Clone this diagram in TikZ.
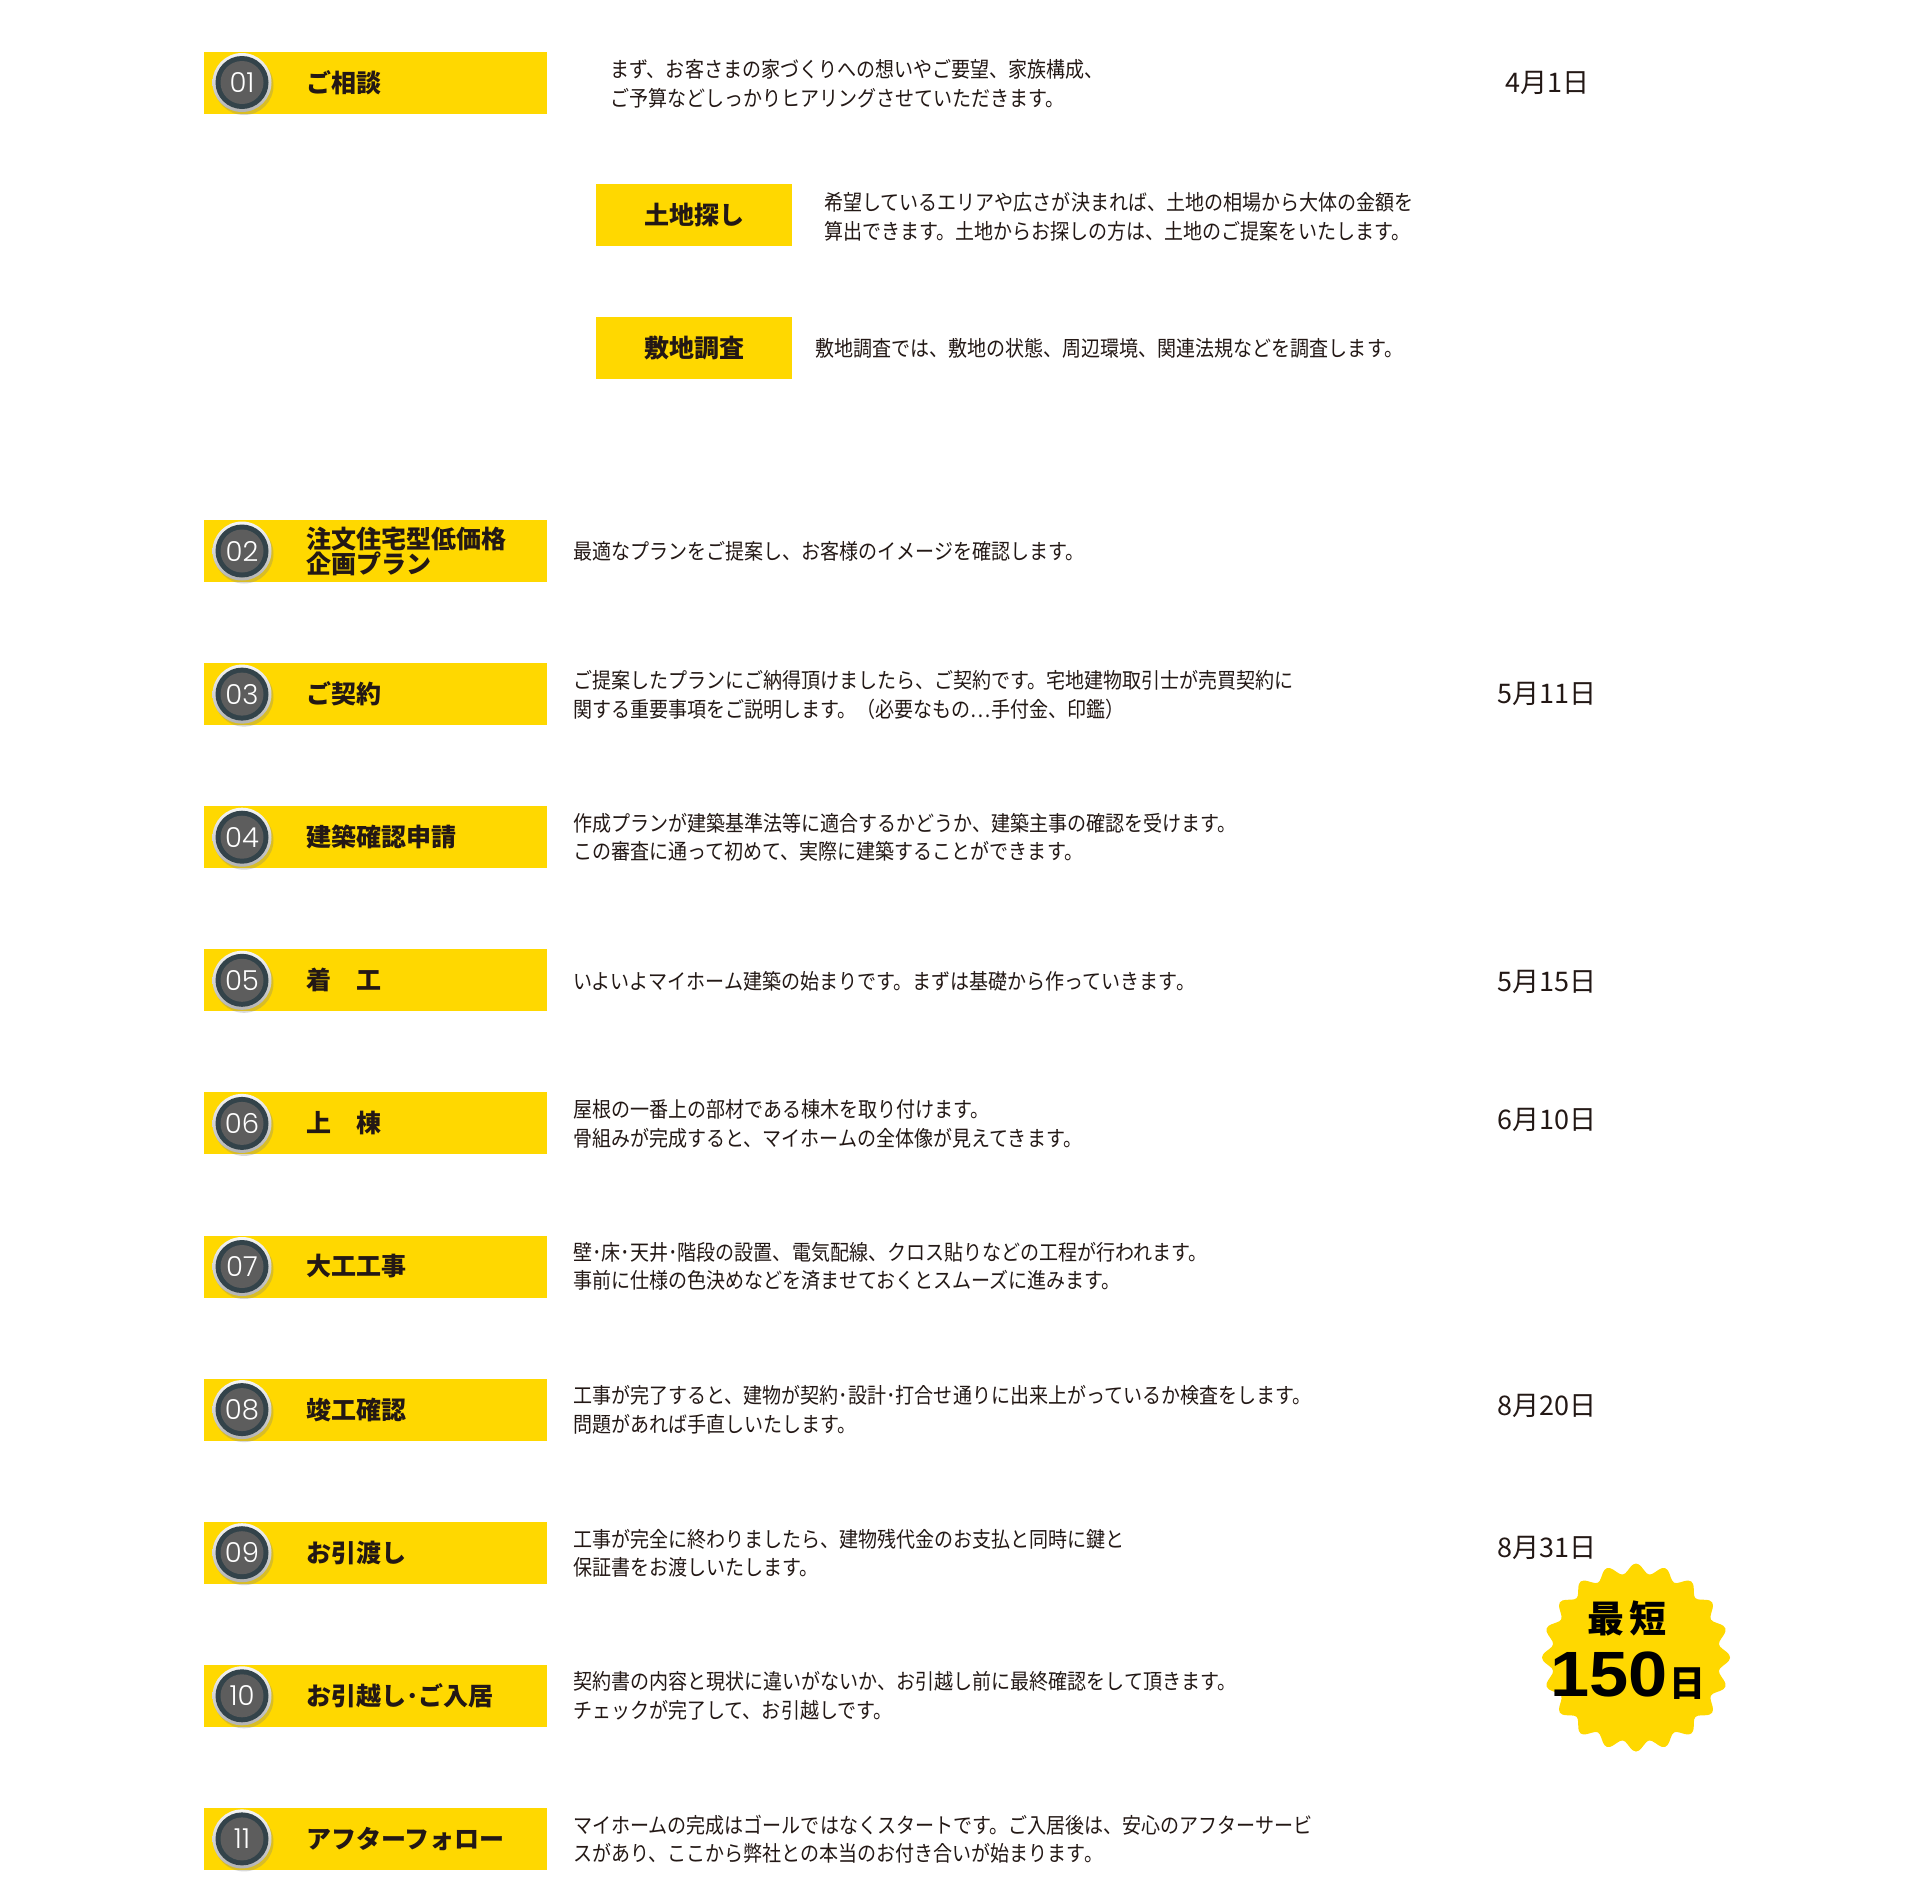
\documentclass[tikz,border=0pt]{standalone}
\usepackage{fontspec}
\newfontfamily\jp{Noto Sans CJK JP}
\newfontfamily\jpbody[FakeStretch=0.885]{Noto Sans CJK JP}
\newfontfamily\numfont{Poppins Light}
\newfontfamily\numwide[FakeStretch=1.1]{Liberation Sans}
\usetikzlibrary{positioning, shadows}
\definecolor{stepyellow}{RGB}{255,216,0}
\definecolor{badgegray}{RGB}{93,93,93}
\definecolor{badgeslate}{RGB}{51,67,74}
\definecolor{inkdark}{RGB}{35,24,21}

\begin{document}
\begin{tikzpicture}[
    x=1pt, y=-1pt,
    bar/.style={rectangle, fill=stepyellow, minimum width=343pt, minimum height=62pt, inner sep=0pt, anchor=west},
    subbar/.style={rectangle, fill=stepyellow, minimum width=196pt, minimum height=62pt, inner sep=0pt, text=inkdark, font=\jp\bfseries\fontsize{25}{26}\selectfont},
    ring/.style={circle, minimum size=59pt, inner sep=0pt, top color=gray!8, bottom color=gray!60, drop shadow={shadow xshift=2pt, shadow yshift=-3pt, opacity=0.3}},
    rim/.style={circle, minimum size=53pt, inner sep=0pt, fill=badgeslate},
    badge/.style={circle, minimum size=43pt, inner sep=0pt, fill=badgegray, text=white, font=\numfont\fontsize{27.5}{27.5}\selectfont},
    title/.style={anchor=west, align=left, inner sep=0pt, text=inkdark, font=\jp\bfseries\fontsize{25}{25}\selectfont},
    desc/.style={anchor=west, align=left, inner sep=0pt, text=inkdark, font=\jpbody\fontsize{21.5}{28.5}\selectfont},
    datelabel/.style={inner sep=0pt, text=inkdark, font=\jp\fontsize{27}{28}\selectfont},
]
    \useasboundingbox (0,0) rectangle (1920,1901);

    % Step bars with badges
    \foreach \n/\y/\t in {01/82.5/ご相談, 02/551/{注文住宅型低価格\\企画プラン}, 03/694.1/ご契約,
        04/837.2/建築確認申請, 05/980.3/着　工, 06/1123.4/上　棟, 07/1266.5/大工工事,
        08/1409.6/竣工確認, 09/1552.7/お引渡し, 10/1695.8/お引越し･ご入居, 11/1838.9/アフターフォロー} {
        \node[bar] (bar\n) at (204,\y) {};
        \node[ring] (r\n) at (242,\y) {};
        \node[rim] (m\n) at (r\n) {};
        \node[badge] (b\n) at (r\n) {\n};
        \node[title] (t\n) at (306,\y) {\t};
    }

    % Sub steps
    \node[subbar] (land) at (694,215.4) {土地探し};
    \node[subbar] (survey) at (694,348.3) {敷地調査};

    % Descriptions
    \node[desc] (d01) at (610,84) {まず、お客さまの家づくりへの想いやご要望、家族構成、\\ご予算などしっかりヒアリングさせていただきます。};
    \node[desc] (dland) at (824,217) {希望しているエリアや広さが決まれば、土地の相場から大体の金額を\\算出できます。土地からお探しの方は、土地のご提案をいたします。};
    \node[desc] (dsurvey) at (815,348.3) {敷地調査では、敷地の状態、周辺環境、関連法規などを調査します。};
    \node[desc] (d02) at (573,551) {最適なプランをご提案し、お客様のイメージを確認します。};
    \node[desc] (d03) at (573,695) {ご提案したプランにご納得頂けましたら、ご契約です。宅地建物取引士が売買契約に\\関する重要事項をご説明します。（必要なもの…手付金、印鑑）};
    \node[desc] (d04) at (573,837.2) {作成プランが建築基準法等に適合するかどうか、建築主事の確認を受けます。\\この審査に通って初めて、実際に建築することができます。};
    \node[desc] (d05) at (573,981) {いよいよマイホーム建築の始まりです。まずは基礎から作っていきます。};
    \node[desc] (d06) at (573,1124) {屋根の一番上の部材である棟木を取り付けます。\\骨組みが完成すると、マイホームの全体像が見えてきます。};
    \node[desc] (d07) at (573,1266.5) {壁･床･天井･階段の設置、電気配線、クロス貼りなどの工程が行われます。\\事前に仕様の色決めなどを済ませておくとスムーズに進みます。};
    \node[desc] (d08) at (573,1409.6) {工事が完了すると、建物が契約･設計･打合せ通りに出来上がっているか検査をします。\\問題があれば手直しいたします。};
    \node[desc] (d09) at (573,1553) {工事が完全に終わりましたら、建物残代金のお支払と同時に鍵と\\保証書をお渡しいたします。};
    \node[desc] (d10) at (573,1695.8) {契約書の内容と現状に違いがないか、お引越し前に最終確認をして頂きます。\\チェックが完了して、お引越しです。};
    \node[desc] (d11) at (573,1839) {マイホームの完成はゴールではなくスタートです。ご入居後は、安心のアフターサービ\\スがあり、ここから弊社との本当のお付き合いが始まります。};

    % Dates
    \node[datelabel] (date01) at (1547,83) {4月1日};
    \node[datelabel] (date03) at (1547,693.7) {5月11日};
    \node[datelabel] (date05) at (1547,981.5) {5月15日};
    \node[datelabel] (date06) at (1547,1119.7) {6月10日};
    \node[datelabel] (date08) at (1547,1406) {8月20日};
    \node[datelabel] (date09) at (1547,1548) {8月31日};

    % Badge: shortest term
    \fill[stepyellow] plot[smooth, domain=0:360, samples=201]
        ({1636+(89+5*cos(20*\x))*cos(\x)}, {1657.5+(89+5*cos(20*\x))*sin(\x)}) -- cycle;
    \node[inner sep=0pt, font=\jp\bfseries\fontsize{37}{37}\selectfont] (short) at (1627,1618) {最\hspace{5pt}短};
    \node[inner sep=0pt, anchor=base, font=\bfseries\fontsize{64}{64}\selectfont] (days) at (1628,1696) {\numwide 150\hspace{2pt}{\jp\fontsize{36}{36}\selectfont 日}};
\end{tikzpicture}
\end{document}
